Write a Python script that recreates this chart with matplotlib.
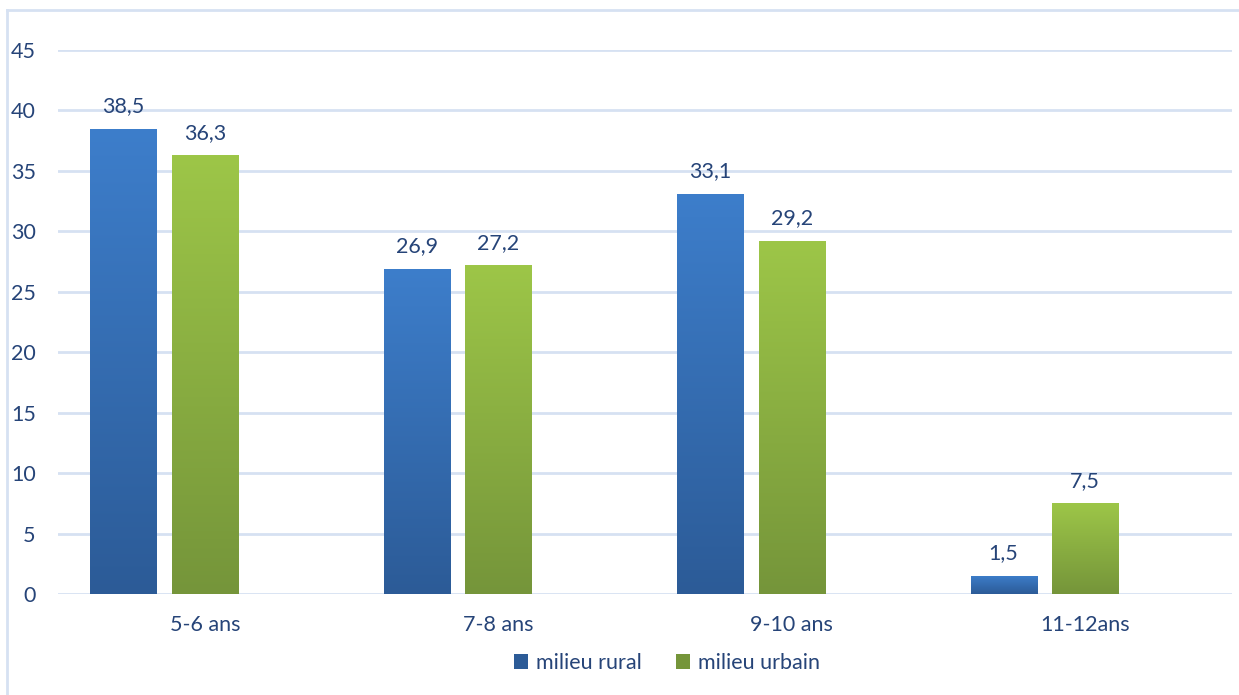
import numpy as np
import matplotlib
matplotlib.use("Agg")
import matplotlib.pyplot as plt
from matplotlib.colors import LinearSegmentedColormap
from matplotlib.lines import Line2D
from matplotlib.patches import Patch

# tranches d'âge et pourcentages par milieu
categories = ["5-6 ans", "7-8 ans", "9-10 ans", "11-12ans"]
rural = [38.5, 26.9, 33.1, 1.5]
urbain = [36.3, 27.2, 29.2, 7.5]
series_names = ["milieu rural", "milieu urbain"]

text_color = "#264478"
grid_color = "#d6e1f2"
blue_top, blue_bottom = "#3d7ecb", "#2c5b97"
green_top, green_bottom = "#9dc648", "#75953a"

plt.rcParams["font.family"] = ["Lato", "DejaVu Sans"]
fs = 15.5

fig = plt.figure(figsize=(12.39, 6.95), dpi=100)
ax = fig.add_axes([58 / 1239, 1 - 594 / 695, 1174 / 1239, 544 / 695])

x = np.arange(len(categories))
width = 0.225
step = 0.278


def gradient_bars(xpos, values, top, bottom):
    bars = ax.bar(xpos, values, width, color=bottom, zorder=3)
    cmap = LinearSegmentedColormap.from_list("g", [bottom, top])
    grad = np.linspace(0, 1, 256).reshape(-1, 1)
    for b in bars:
        x0, w, h = b.get_x(), b.get_width(), b.get_height()
        im = ax.imshow(grad, cmap=cmap, origin="lower", aspect="auto",
                       extent=[x0, x0 + w, 0, h], zorder=4)
        im.set_clip_path(b)
    return bars


bars_r = gradient_bars(x - step, rural, blue_top, blue_bottom)
bars_u = gradient_bars(x, urbain, green_top, green_bottom)

# étiquettes de valeur au-dessus des barres
for bars, vals in [(bars_r, rural), (bars_u, urbain)]:
    for b, v in zip(bars, vals):
        ax.annotate(f"{v:.1f}".replace(".", ","),
                    (b.get_x() + b.get_width() / 2, v),
                    xytext=(0, 9), textcoords="offset points",
                    ha="center", va="bottom", fontsize=fs, color=text_color)

ax.set_xlim(-0.5, 3.5)
ax.set_ylim(0, 45)
ax.set_yticks(range(0, 46, 5))
ax.set_xticks(x)
ax.set_xticklabels(categories)
ax.tick_params(axis="both", length=0, labelsize=fs, labelcolor=text_color)
ax.tick_params(axis="y", pad=16)
ax.tick_params(axis="x", pad=15)
ax.grid(axis="y", color=grid_color, linewidth=2)
ax.set_axisbelow(True)
for s in ax.spines.values():
    s.set_visible(False)

handles = [Patch(facecolor=blue_bottom, edgecolor="none"),
           Patch(facecolor=green_bottom, edgecolor="none")]
fig.legend(handles, series_names, loc="center", bbox_to_anchor=(667 / 1239, 1 - 663 / 695),
           ncol=2, frameon=False, fontsize=fs, labelcolor=text_color,
           handlelength=0.65, handleheight=0.65, handletextpad=0.35, columnspacing=1.6)

# cadre du graphique
fig.add_artist(Line2D([7 / 1239, 7 / 1239], [0, 1 - 10 / 695], color=grid_color, linewidth=2))
fig.add_artist(Line2D([7 / 1239, 1], [1 - 10 / 695, 1 - 10 / 695], color=grid_color, linewidth=2))

fig.savefig("out.png", dpi=100)
